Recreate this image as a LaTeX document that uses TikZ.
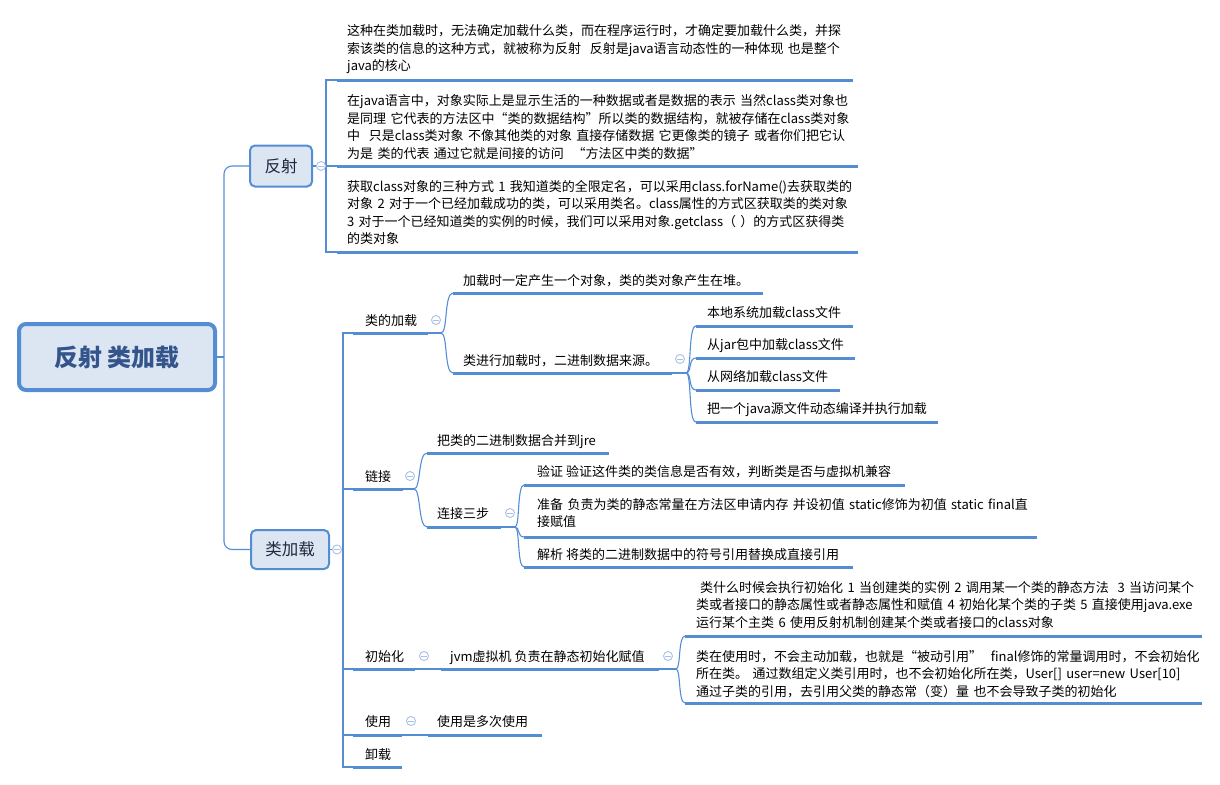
\documentclass[tikz,border=0pt]{standalone}
\usepackage{fontspec}
\setmainfont{Noto Sans CJK SC}
\definecolor{lb}{RGB}{84,141,212}
\definecolor{nfill}{RGB}{220,230,242}
\definecolor{roottext}{RGB}{52,84,140}
\definecolor{iconc}{RGB}{170,192,230}
\definecolor{ntext}{RGB}{30,40,62}
\tikzset{
  conn/.style={draw=lb, line width=1.1pt},
  uline/.style={draw=lb, line width=3pt},
  txt/.style={anchor=base west, inner sep=0pt, font=\fontsize{13}{17.6}\selectfont, text=black},
  txtm/.style={txt, text width=560pt, align=left},
  collapse/.style={circle, draw=iconc, fill=white, line width=0.9pt, minimum size=9pt, inner sep=0pt,
    path picture={\draw[iconc, line width=0.9pt] ([xshift=-2.6pt]path picture bounding box.center) -- ([xshift=2.6pt]path picture bounding box.center);}},
  rootbox/.style={draw=lb, line width=4pt, fill=nfill, rounded corners=7pt, minimum width=196pt, minimum height=66pt, inner sep=0pt, font=\fontsize{24}{24}\selectfont\bfseries, text=roottext},
  mainbox/.style={draw=lb, line width=2pt, fill=nfill, rounded corners=5pt, inner sep=0pt, font=\fontsize{16.5}{16.5}\selectfont, text=ntext},
}
\begin{document}
\begin{tikzpicture}[x=1pt,y=-1pt]
\useasboundingbox (0,0) rectangle (1220,784);

% main nodes
\node[rootbox] (root) at (117,357) {反射 类加载};
\node[mainbox, minimum width=62pt, minimum height=41pt] (fs) at (281,166) {反射};
\node[mainbox, minimum width=78pt, minimum height=39pt] (lj) at (290,549.5) {类加载};
\coordinate (tj) at (224,357);
\draw[conn] (root.east) -- (tj);
\draw[conn, rounded corners=8pt] (tj) |- (fs.west);
\draw[conn, rounded corners=8pt] (tj) |- (lj.west);

% ===== 反射 branch =====
\coordinate (fsb) at (326,166);
\coordinate (r1s) at (337,80);    \coordinate (r1e) at (853,80);
\coordinate (r2s) at (337,166);   \coordinate (r2e) at (858,166);
\coordinate (r3s) at (337,252);   \coordinate (r3e) at (858,252);
\draw[conn] (fs.east) -- (fsb);
\draw[conn] (fsb) |- (r1s);
\draw[conn] (fsb) |- (r2s);
\draw[conn] (fsb) |- (r3s);
\draw[uline] (r1s) -- (r1e);
\draw[uline] (r2s) -- (r2e);
\draw[uline] (r3s) -- (r3e);
\node[collapse] (fsi) at (321,166) {};

\node[txtm] (r1t) at (347,35.5) {这种在类加载时，无法确定加载什么类，而在程序运行时，才确定要加载什么类，并探\\索该类的信息的这种方式，就被称为反射\ \ 反射是java语言动态性的一种体现 也是整个\\java的核心};
\node[txtm] (r2t) at (347,105.5) {在java语言中，对象实际上是显示生活的一种数据或者是数据的表示 当然class类对象也\\是同理 它代表的方法区中“类的数据结构”所以类的数据结构，就被存储在class类对象\\中\ \ 只是class类对象 不像其他类的对象 直接存储数据 它更像类的镜子 或者你们把它认\\为是 类的代表 通过它就是间接的访问\ \ “方法区中类的数据”};
\node[txtm] (r3t) at (347,191) {获取class对象的三种方式 1 我知道类的全限定名，可以采用class.forName()去获取类的\\对象 2 对于一个已经加载成功的类，可以采用类名。class属性的方式区获取类的类对象\\3 对于一个已经知道类的实例的时候，我们可以采用对象.getclass（ ）的方式区获得类\\的类对象};

% ===== 类加载 branch =====
\coordinate (ljb) at (343,549.5);
\coordinate (c1s) at (353,333); \coordinate (c1e) at (428,333);
\coordinate (c2s) at (353,489); \coordinate (c2e) at (403,489);
\coordinate (c3s) at (353,669); \coordinate (c3e) at (415,669);
\coordinate (c4s) at (353,735); \coordinate (c4e) at (402,735);
\coordinate (c5s) at (353,767); \coordinate (c5e) at (402,767);
\draw[conn] (lj.east) -- (ljb);
\draw[conn] (ljb) |- (c1s);
\draw[conn] (ljb) |- (c5s);
\draw[conn] (ljb) |- (c2s);
\draw[conn] (ljb) |- (c3s);
\draw[conn] (ljb) |- (c4s);
\foreach \c in {c1,c2,c3,c4,c5} \draw[uline] (\c s) -- (\c e);
\node[collapse] (lji) at (337,549.5) {};

\node[txt] (c1t) at (365,325) {类的加载};
\node[txt] (c2t) at (365,481) {链接};
\node[txt] (c3t) at (365,661) {初始化};
\node[txt] (c4t) at (365,726) {使用};
\node[txt] (c5t) at (365,759) {卸载};

% --- 类的加载 children
\coordinate (c1k) at (441,333);
\coordinate (d1s) at (453,293); \coordinate (d1e) at (763,293);
\coordinate (d2s) at (453,373); \coordinate (d2e) at (672,373);
\draw[conn] (c1e) -- (c1k);
\draw[conn] (c1k) .. controls +(7,0) and +(-9,0) .. (d1s);
\draw[conn] (c1k) .. controls +(7,0) and +(-9,0) .. (d2s);
\draw[uline] (d1s) -- (d1e);
\draw[uline] (d2s) -- (d2e);
\node[collapse] (c1i) at (436,320) {};
\node[txt] (d1t) at (463,285) {加载时一定产生一个对象，类的类对象产生在堆。};
\node[txt] (d2t) at (463,365) {类进行加载时，二进制数据来源。};

% --- 类进行加载时 children
\coordinate (d2k) at (686,373);
\coordinate (e1s) at (696,326); \coordinate (e1e) at (853,326);
\coordinate (e2s) at (696,358); \coordinate (e2e) at (855,358);
\coordinate (e3s) at (696,390); \coordinate (e3e) at (840,390);
\coordinate (e4s) at (696,422); \coordinate (e4e) at (938,422);
\draw[conn] (d2e) -- (d2k);
\foreach \e in {e1,e2,e3,e4} \draw[conn] (d2k) .. controls +(6,0) and +(-8,0) .. (\e s);
\foreach \e in {e1,e2,e3,e4} \draw[uline] (\e s) -- (\e e);
\node[collapse] (d2i) at (680,359) {};
\node[txt] (e1t) at (707,317) {本地系统加载class文件};
\node[txt] (e2t) at (707,349) {从jar包中加载class文件};
\node[txt] (e3t) at (707,381) {从网络加载class文件};
\node[txt] (e4t) at (707,413) {把一个java源文件动态编译并执行加载};

% --- 链接 children
\coordinate (c2k) at (414,489);
\coordinate (f1s) at (427,453); \coordinate (f1e) at (609,453);
\coordinate (f2s) at (427,527); \coordinate (f2e) at (501,527);
\draw[conn] (c2e) -- (c2k);
\draw[conn] (c2k) .. controls +(7,0) and +(-9,0) .. (f1s);
\draw[conn] (c2k) .. controls +(7,0) and +(-9,0) .. (f2s);
\draw[uline] (f1s) -- (f1e);
\draw[uline] (f2s) -- (f2e);
\node[collapse] (c2i) at (410,476) {};
\node[txt] (f1t) at (437,445) {把类的二进制数据合并到jre};
\node[txt] (f2t) at (437,518) {连接三步};

% --- 连接三步 children
\coordinate (f2k) at (515,527);
\coordinate (g1s) at (524,485); \coordinate (g1e) at (905,485);
\coordinate (g2s) at (524,537); \coordinate (g2e) at (1037,537);
\coordinate (g3s) at (524,567); \coordinate (g3e) at (853,567);
\draw[conn] (f2e) -- (f2k);
\foreach \g in {g1,g2,g3} \draw[conn] (f2k) .. controls +(5,0) and +(-7,0) .. (\g s);
\foreach \g in {g1,g2,g3} \draw[uline] (\g s) -- (\g e);
\node[collapse] (f2i) at (510,513) {};
\node[txt] (g1t) at (537,476) {验证 验证这件类的类信息是否有效，判断类是否与虚拟机兼容};
\node[txtm] (g2t) at (537,509) {准备 负责为类的静态常量在方法区申请内存 并设初值 static修饰为初值 static final直\\接赋值};
\node[txt] (g3t) at (537,559) {解析 将类的二进制数据中的符号引用替换成直接引用};

% --- 初始化 children
\coordinate (h1s) at (441,669); \coordinate (h1e) at (659,669);
\draw[conn] (c3e) -- (h1s);
\draw[uline] (h1s) -- (h1e);
\node[collapse] (c3i) at (424,656) {};
\node[txt] (h1t) at (450,661) {jvm虚拟机 负责在静态初始化赋值};

\coordinate (h1k) at (676,669);
\coordinate (k1s) at (685,636); \coordinate (k1e) at (1202,636);
\coordinate (k2s) at (685,703); \coordinate (k2e) at (1202,703);
\draw[conn] (h1e) -- (h1k);
\draw[conn] (h1k) .. controls +(5,0) and +(-7,0) .. (k1s);
\draw[conn] (h1k) .. controls +(5,0) and +(-7,0) .. (k2s);
\draw[uline] (k1s) -- (k1e);
\draw[uline] (k2s) -- (k2e);
\node[collapse] (h1i) at (668,656) {};
\node[txtm] (k1t) at (696,592) {\hspace*{4pt}类什么时候会执行初始化 1 当创建类的实例 2 调用某一个类的静态方法\ \ 3 当访问某个\\类或者接口的静态属性或者静态属性和赋值 4 初始化某个类的子类 5 直接使用java.exe\\运行某个主类 6 使用反射机制创建某个类或者接口的class对象};
\node[txtm] (k2t) at (696,661) {类在使用时，不会主动加载，也就是“被动引用”\ \ final修饰的常量调用时，不会初始化\\所在类。 通过数组定义类引用时，也不会初始化所在类，User[] user=new User[10]\\通过子类的引用，去引用父类的静态常（变）量 也不会导致子类的初始化};

% --- 使用 children
\coordinate (m1s) at (428,735); \coordinate (m1e) at (542,735);
\draw[conn] (c4e) -- (m1s);
\draw[uline] (m1s) -- (m1e);
\node[collapse] (c4i) at (411,721) {};
\node[txt] (m1t) at (437,726) {使用是多次使用};
\end{tikzpicture}
\end{document}
